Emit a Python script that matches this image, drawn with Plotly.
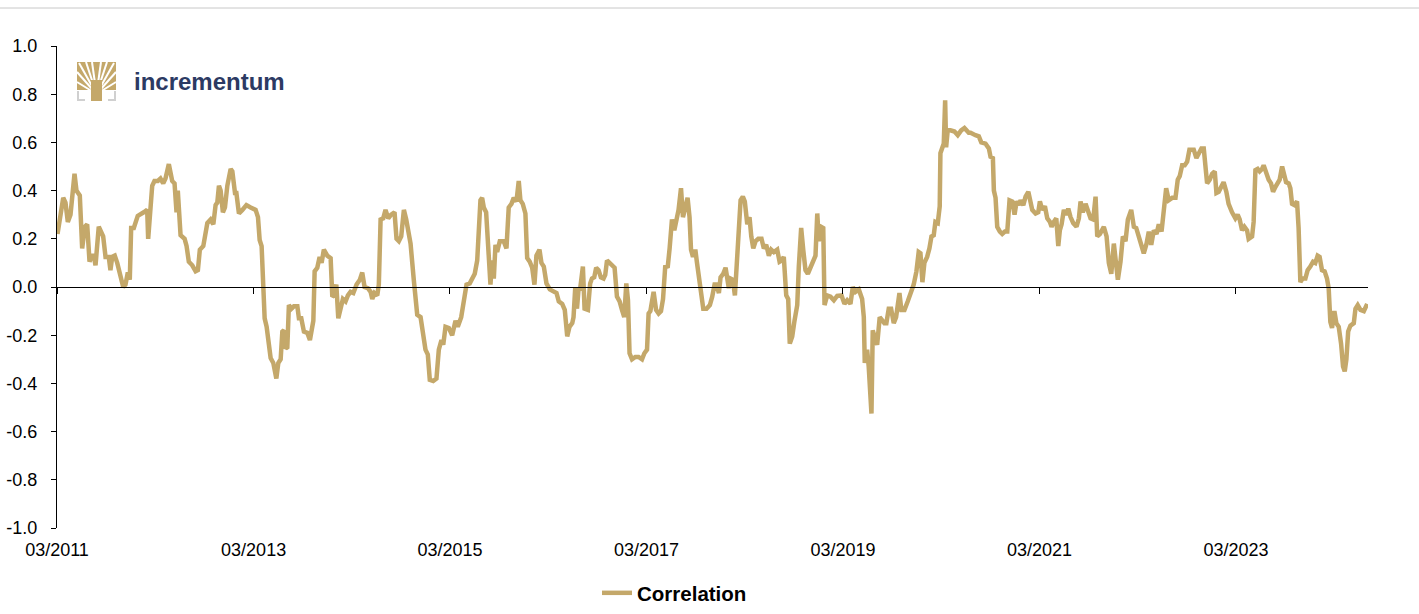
import plotly.graph_objects as go
import pandas as pd

# ---- data: decimal years and 52-week rolling correlation values ----
years = [
    2011.167, 2011.190, 2011.225, 2011.248, 2011.272, 2011.299, 2011.327, 2011.340, 2011.360, 2011.394,
    2011.418, 2011.445, 2011.469, 2011.493, 2011.513, 2011.536, 2011.554, 2011.587, 2011.632, 2011.656,
    2011.689, 2011.706, 2011.724, 2011.750, 2011.775, 2011.808, 2011.836, 2011.859, 2011.883, 2011.903,
    2011.917, 2011.944, 2011.984, 2012.045, 2012.080, 2012.090, 2012.131, 2012.154, 2012.188, 2012.215,
    2012.243, 2012.266, 2012.300, 2012.334, 2012.358, 2012.378, 2012.391, 2012.419,
    2012.460, 2012.480, 2012.503, 2012.538, 2012.572, 2012.595, 2012.615, 2012.650, 2012.691, 2012.724,
    2012.752, 2012.775, 2012.792, 2012.809, 2012.826, 2012.849, 2012.870, 2012.894, 2012.928, 2012.945,
    2012.972, 2012.986, 2013.012, 2013.047, 2013.088, 2013.131, 2013.182, 2013.206, 2013.223, 2013.243,
    2013.261, 2013.274, 2013.294, 2013.318, 2013.335, 2013.362, 2013.393, 2013.413, 2013.437, 2013.454,
    2013.470, 2013.488, 2013.505, 2013.521, 2013.546, 2013.572, 2013.607, 2013.623, 2013.647, 2013.674,
    2013.708, 2013.735,
    2013.770, 2013.783, 2013.810, 2013.834, 2013.854, 2013.877, 2013.912, 2013.946, 2013.963, 2013.979,
    2014.004, 2014.024, 2014.047, 2014.071, 2014.098, 2014.122, 2014.149, 2014.177, 2014.210, 2014.244,
    2014.268, 2014.292, 2014.325, 2014.353, 2014.370, 2014.393, 2014.421, 2014.437, 2014.455, 2014.482,
    2014.505, 2014.533, 2014.563, 2014.597, 2014.617, 2014.641, 2014.665, 2014.692, 2014.716, 2014.736,
    2014.760, 2014.793, 2014.828, 2014.862, 2014.889, 2014.912, 2014.936, 2014.956, 2014.991, 2015.024,
    2015.048, 2015.075, 2015.093, 2015.116, 2015.150,
    2015.184, 2015.218, 2015.241, 2015.276, 2015.302, 2015.330, 2015.363, 2015.388, 2015.414, 2015.439,
    2015.455, 2015.472, 2015.489, 2015.506, 2015.530, 2015.551, 2015.574, 2015.591, 2015.608, 2015.625,
    2015.642, 2015.669, 2015.709, 2015.737, 2015.760, 2015.788, 2015.811, 2015.839, 2015.862, 2015.879,
    2015.903, 2015.930, 2015.948, 2015.974, 2015.999, 2016.022, 2016.042, 2016.073, 2016.093, 2016.117,
    2016.144, 2016.178, 2016.212, 2016.246, 2016.269, 2016.304, 2016.330, 2016.355, 2016.378, 2016.406,
    2016.419, 2016.436, 2016.454, 2016.470, 2016.487, 2016.514, 2016.531, 2016.565, 2016.588, 2016.606,
    2016.629, 2016.649, 2016.673, 2016.697, 2016.724, 2016.741, 2016.759, 2016.785, 2016.809, 2016.836,
    2016.860, 2016.887, 2016.911, 2016.934, 2016.955, 2016.972, 2016.988, 2017.013, 2017.047, 2017.080,
    2017.115, 2017.139, 2017.166, 2017.182, 2017.200, 2017.217, 2017.233, 2017.258, 2017.284, 2017.308,
    2017.329, 2017.352, 2017.376, 2017.396, 2017.420, 2017.444, 2017.464, 2017.487, 2017.512, 2017.532,
    2017.556, 2017.579, 2017.599, 2017.614, 2017.634, 2017.658, 2017.675,
    2017.739, 2017.772, 2017.806, 2017.830, 2017.854, 2017.874, 2017.898, 2017.915, 2017.942, 2017.966,
    2017.983, 2017.999, 2018.017, 2018.040, 2018.061, 2018.085, 2018.101, 2018.119, 2018.142, 2018.162,
    2018.187, 2018.210, 2018.228, 2018.248, 2018.271, 2018.299, 2018.332, 2018.356, 2018.380, 2018.407,
    2018.431, 2018.458, 2018.492, 2018.516, 2018.536, 2018.559, 2018.584, 2018.604, 2018.620, 2018.645,
    2018.668, 2018.696, 2018.712, 2018.736, 2018.757, 2018.780, 2018.804, 2018.831, 2018.859, 2018.882,
    2018.900, 2018.916, 2018.940, 2018.961, 2018.974, 2019.001, 2019.035, 2019.069, 2019.103,
    2019.147, 2019.177, 2019.205, 2019.238, 2019.262, 2019.289, 2019.323, 2019.357, 2019.374, 2019.384,
    2019.408, 2019.424, 2019.442, 2019.452, 2019.465, 2019.485, 2019.510, 2019.536, 2019.561, 2019.584,
    2019.604, 2019.628, 2019.652, 2019.679, 2019.703, 2019.737, 2019.757, 2019.788, 2019.821, 2019.856,
    2019.882, 2019.910, 2019.933, 2019.951, 2019.971, 2019.991, 2020.019, 2020.042, 2020.063, 2020.086,
    2020.103, 2020.127, 2020.147, 2020.154, 2020.171, 2020.188, 2020.202, 2020.212, 2020.228, 2020.256,
    2020.297, 2020.330, 2020.365, 2020.398, 2020.442,
    2020.460, 2020.510, 2020.544, 2020.569, 2020.612, 2020.646, 2020.663, 2020.687, 2020.697, 2020.714,
    2020.731, 2020.758, 2020.782, 2020.809, 2020.833, 2020.856, 2020.884, 2020.907, 2020.928, 2020.951,
    2020.968, 2020.996, 2021.019, 2021.047, 2021.070, 2021.087, 2021.121, 2021.148, 2021.165, 2021.189,
    2021.216, 2021.240, 2021.267, 2021.284, 2021.307, 2021.332, 2021.352, 2021.368, 2021.386, 2021.409,
    2021.433, 2021.454, 2021.477, 2021.505, 2021.538, 2021.562, 2021.579, 2021.602, 2021.630, 2021.653,
    2021.681, 2021.708, 2021.732, 2021.749, 2021.776,
    2021.816, 2021.844, 2021.867, 2021.892, 2021.918, 2021.936, 2021.959, 2021.986, 2022.010, 2022.037,
    2022.061, 2022.095, 2022.122, 2022.146, 2022.173, 2022.197, 2022.223, 2022.251, 2022.274, 2022.299,
    2022.325, 2022.353, 2022.376, 2022.404, 2022.427, 2022.451, 2022.477, 2022.512, 2022.546, 2022.569,
    2022.589, 2022.614, 2022.640, 2022.665, 2022.688, 2022.715, 2022.732, 2022.759, 2022.783, 2022.810,
    2022.834, 2022.851, 2022.868, 2022.895, 2022.919, 2022.946, 2022.963, 2022.986,
    2023.010, 2023.036, 2023.064, 2023.087, 2023.122, 2023.156, 2023.179, 2023.200, 2023.224, 2023.248,
    2023.275, 2023.291, 2023.326, 2023.342, 2023.360, 2023.383, 2023.403, 2023.428, 2023.444, 2023.472,
    2023.495, 2023.519, 2023.540, 2023.563, 2023.587, 2023.607, 2023.632, 2023.648, 2023.672, 2023.699,
    2023.716, 2023.733, 2023.757, 2023.784, 2023.800, 2023.818, 2023.841, 2023.869, 2023.892, 2023.919,
    2023.947, 2023.970, 2023.994, 2024.014, 2024.038, 2024.065, 2024.089, 2024.106, 2024.123, 2024.140,
    2024.164, 2024.184, 2024.208, 2024.232, 2024.252, 2024.269, 2024.286, 2024.304, 2024.327, 2024.361,
    2024.378, 2024.401, 2024.429, 2024.463, 2024.497,
]

correlation = [
    0.22, 0.29, 0.37, 0.35, 0.27, 0.30, 0.46, 0.47, 0.40, 0.38,
    0.16, 0.25, 0.26, 0.105, 0.13, 0.13, 0.09, 0.25, 0.21, 0.125,
    0.125, 0.07, 0.125, 0.13, 0.10, 0.04, 0.00, 0.01, 0.06, 0.03,
    0.245, 0.245, 0.295, 0.31, 0.32, 0.20, 0.42, 0.44, 0.44, 0.45,
    0.43, 0.45, 0.51, 0.44, 0.43, 0.31, 0.40, 0.215,
    0.20, 0.17, 0.105, 0.09, 0.065, 0.07, 0.155, 0.17, 0.265, 0.28,
    0.26, 0.34, 0.35, 0.42, 0.40, 0.31, 0.33, 0.42, 0.49, 0.48,
    0.39, 0.39, 0.305, 0.32, 0.34, 0.33, 0.32, 0.29, 0.195, 0.17,
    -0.01, -0.13, -0.165, -0.25, -0.295, -0.315, -0.38, -0.315, -0.30, -0.185,
    -0.18, -0.255, -0.25, -0.075, -0.09, -0.08, -0.08, -0.13, -0.13, -0.185,
    -0.19, -0.22,
    -0.14, 0.065, 0.08, 0.125, 0.10, 0.155, 0.13, 0.12, -0.04, -0.035,
    0.01, -0.13, -0.08, -0.05, -0.06, -0.035, -0.02, -0.025, 0.01, 0.03,
    0.06, 0.00, -0.005, -0.02, -0.05, -0.025, -0.035, 0.01, 0.28, 0.285,
    0.32, 0.285, 0.30, 0.31, 0.20, 0.19, 0.21, 0.32, 0.28, 0.22,
    0.18, 0.03, -0.115, -0.125, -0.19, -0.26, -0.28, -0.385, -0.39, -0.38,
    -0.26, -0.22, -0.24, -0.165, -0.17,
    -0.20, -0.14, -0.165, -0.125, -0.07, 0.01, 0.015, 0.04, 0.055, 0.11,
    0.22, 0.36, 0.37, 0.33, 0.31, 0.17, 0.01, 0.11, 0.035, 0.175,
    0.145, 0.19, 0.19, 0.16, 0.33, 0.345, 0.37, 0.355, 0.44, 0.36,
    0.345, 0.305, 0.12, 0.105, 0.08, 0.01, 0.13, 0.155, 0.10, 0.085,
    0.015, -0.01, -0.02, -0.025, -0.06, -0.07, -0.095, -0.205, -0.165, -0.15,
    -0.125, -0.005, -0.09, -0.01, -0.005, 0.085, -0.09, -0.095, 0.015, 0.035,
    0.04, 0.08, 0.07, 0.04, 0.035, 0.05, 0.11, 0.10, 0.085, 0.08,
    -0.04, -0.06, -0.095, -0.125, 0.015, -0.055, -0.275, -0.30, -0.29, -0.29,
    -0.30, -0.275, -0.26, -0.11, -0.10, -0.06, -0.02, -0.095, -0.11, -0.10,
    -0.05, 0.09, 0.08, 0.16, 0.28, 0.235, 0.28, 0.32, 0.41, 0.29,
    0.33, 0.37, 0.29, 0.155, 0.125, 0.155, 0.10,
    -0.09, -0.09, -0.075, -0.04, 0.01, 0.01, -0.025, 0.04, 0.055, 0.08,
    0.015, -0.005, 0.035, 0.03, -0.035, 0.13, 0.285, 0.36, 0.375, 0.355,
    0.26, 0.29, 0.21, 0.16, 0.19, 0.20, 0.20, 0.16, 0.175, 0.13,
    0.155, 0.145, 0.155, 0.105, 0.11, 0.125, -0.035, -0.05, -0.235, -0.205,
    -0.14, -0.075, 0.085, 0.245, 0.155, 0.07, 0.055, 0.08, 0.105, 0.13,
    0.305, 0.19, 0.25, 0.245, -0.075, -0.035, -0.04, -0.055, -0.037,
    -0.035, -0.07, -0.055, -0.07, 0.00, -0.02, -0.01, -0.05, -0.125, -0.315,
    -0.26, -0.33, -0.48, -0.525, -0.18, -0.205, -0.24, -0.125, -0.14, -0.15,
    -0.15, -0.09, -0.09, -0.15, -0.125, -0.025, -0.095, -0.095, -0.06, -0.025,
    0.01, 0.065, 0.145, 0.14, 0.02, 0.10, 0.125, 0.16, 0.21, 0.215,
    0.27, 0.265, 0.335, 0.555, 0.57, 0.595, 0.775, 0.58, 0.65, 0.65,
    0.645, 0.63, 0.65, 0.66, 0.64,
    0.64, 0.63, 0.625, 0.60, 0.595, 0.575, 0.54, 0.535, 0.40, 0.37,
    0.25, 0.23, 0.22, 0.23, 0.23, 0.36, 0.355, 0.30, 0.355, 0.34,
    0.36, 0.34, 0.375, 0.395, 0.36, 0.32, 0.305, 0.31, 0.355, 0.32,
    0.335, 0.285, 0.27, 0.25, 0.27, 0.285, 0.17, 0.235, 0.26, 0.32,
    0.30, 0.325, 0.29, 0.265, 0.25, 0.285, 0.355, 0.31, 0.345, 0.31,
    0.285, 0.28, 0.375, 0.21, 0.22,
    0.25, 0.21, 0.10, 0.055, 0.18, 0.10, 0.03, 0.105, 0.21, 0.19,
    0.28, 0.32, 0.25, 0.245, 0.21, 0.175, 0.14, 0.18, 0.23, 0.175,
    0.235, 0.22, 0.26, 0.23, 0.305, 0.41, 0.36, 0.37, 0.37, 0.445,
    0.46, 0.505, 0.505, 0.52, 0.57, 0.57, 0.57, 0.535, 0.555, 0.575,
    0.575, 0.51, 0.43, 0.445, 0.47, 0.48, 0.39, 0.395,
    0.415, 0.435, 0.395, 0.345, 0.31, 0.285, 0.30, 0.28, 0.235, 0.25,
    0.235, 0.20, 0.21, 0.27, 0.485, 0.49, 0.48, 0.49, 0.505, 0.465,
    0.445, 0.43, 0.395, 0.415, 0.435, 0.445, 0.50, 0.48, 0.435, 0.43,
    0.41, 0.345, 0.34, 0.355, 0.245, 0.02, 0.035, 0.035, 0.07, 0.085,
    0.105, 0.10, 0.13, 0.125, 0.07, 0.065, 0.035, -0.005, -0.145, -0.17,
    -0.10, -0.15, -0.165, -0.235, -0.33, -0.35, -0.30, -0.185, -0.16, -0.15,
    -0.09, -0.075, -0.095, -0.10, -0.07,
]

tick_dates = ["2011-03-01", "2013-03-01", "2015-03-01", "2017-03-01",
              "2019-03-01", "2021-03-01", "2023-03-01"]
tick_labels = ["03/2011", "03/2013", "03/2015", "03/2017", "03/2019", "03/2021", "03/2023"]
y_ticks = [-1.0, -0.8, -0.6, -0.4, -0.2, 0.0, 0.2, 0.4, 0.6, 0.8, 1.0]
y_labels = ["-1.0", "-0.8", "-0.6", "-0.4", "-0.2", "0.0", "0.2", "0.4", "0.6", "0.8", "1.0"]
x_range = ["2011-03-01", "2024-07-04"]


def to_date(t):
    y = int(t)
    start = pd.Timestamp(year=y, month=1, day=1)
    end = pd.Timestamp(year=y + 1, month=1, day=1)
    return start + (end - start) * (t - y)


dates = [to_date(t) for t in years]

GOLD = "#C4A86A"
NAVY = "#2C3A63"
FONT = "Liberation Sans, Arial, sans-serif"

W, H = 1419, 614
L, R, T, B = 57, 51, 46, 86
PW, PH = W - L - R, H - T - B


def px(x):
    return (x - L) / PW


def py(y):
    return (H - B - y) / PH


fig = go.Figure()
fig.add_trace(go.Scatter(
    x=dates, y=correlation, mode="lines", name="Correlation",
    line=dict(color=GOLD, width=4.5), hoverinfo="x+y",
))
# helper trace so the zero-line axis is drawn
fig.add_trace(go.Scatter(x=[], y=[], xaxis="x2", showlegend=False, hoverinfo="skip"))

shapes = []
# top grey rule
shapes.append(dict(type="line", xref="paper", yref="paper", x0=px(0), x1=px(W), y0=py(8), y1=py(8),
                   line=dict(color="#C8C8C8", width=1)))
# logo icon (tree)
shapes.append(dict(type="rect", xref="paper", yref="paper", x0=px(77), x1=px(116), y0=py(92), y1=py(62),
                   fillcolor=GOLD, line=dict(width=0)))
for ex, ey in [(77, 82), (77, 72), (79, 63), (86, 62), (92, 62), (101, 62), (107, 62), (114, 63),
               (116, 72), (116, 82)]:
    shapes.append(dict(type="line", xref="paper", yref="paper", x0=px(96.5), y0=py(94), x1=px(ex), y1=py(ey),
                       line=dict(color="white", width=2)))
shapes.append(dict(type="rect", xref="paper", yref="paper", x0=px(91), x1=px(102), y0=py(101), y1=py(80),
                   fillcolor=GOLD, line=dict(width=0)))
shapes.append(dict(type="rect", xref="paper", yref="paper", x0=px(76), x1=px(91), y0=py(101), y1=py(90),
                   fillcolor="white", line=dict(width=0)))
shapes.append(dict(type="rect", xref="paper", yref="paper", x0=px(102), x1=px(117), y0=py(101), y1=py(90),
                   fillcolor="white", line=dict(width=0)))
shapes.append(dict(type="path", xref="paper", yref="paper",
                   path=f"M {px(78)} {py(91)} L {px(78)} {py(100)} L {px(85)} {py(100)}",
                   line=dict(color="#D0D0D0", width=2)))
shapes.append(dict(type="path", xref="paper", yref="paper",
                   path=f"M {px(115)} {py(91)} L {px(115)} {py(100)} L {px(108)} {py(100)}",
                   line=dict(color="#D0D0D0", width=2)))

fig.update_layout(
    width=W, height=H,
    margin=dict(l=L, r=R, t=T, b=B, pad=0, autoexpand=False),
    paper_bgcolor="white", plot_bgcolor="white",
    font=dict(family=FONT, size=18, color="#000000"),
    showlegend=True,
    legend=dict(orientation="h", xref="container", yref="container",
                x=597 / W, xanchor="left", y=(H - 593) / H, yanchor="middle",
                font=dict(family=FONT, size=20.5, color="#000000", weight="bold"),
                bgcolor="rgba(0,0,0,0)"),
    xaxis=dict(type="date", range=x_range, tickvals=tick_dates, ticktext=tick_labels, automargin=False,
               showgrid=False, zeroline=False, showline=False, ticks="",
               ticklabelstandoff=9, tickfont=dict(family=FONT, size=18, color="#000000")),
    xaxis2=dict(type="date", range=x_range, overlaying="x", anchor="free", position=0.5, automargin=False,
                tickvals=tick_dates, showticklabels=False, showgrid=False, zeroline=False,
                showline=True, linecolor="#000000", linewidth=1, ticks="outside", ticklen=6,
                tickcolor="#000000", tickwidth=1),
    yaxis=dict(range=[-1, 1], tickvals=y_ticks, ticktext=y_labels, showgrid=False, zeroline=False,
               automargin=False,
               showline=True, linecolor="#000000", linewidth=1, ticks="outside", ticklen=5,
               tickcolor="#000000", ticklabelstandoff=10,
               tickfont=dict(family=FONT, size=18, color="#000000")),
    shapes=shapes,
    annotations=[dict(xref="paper", yref="paper", x=px(132), y=py(82), xanchor="left", yanchor="middle",
                      text="incrementum", showarrow=False,
                      font=dict(family=FONT, size=24, color=NAVY, weight="bold"))],
)

fig.write_html("out.html")
